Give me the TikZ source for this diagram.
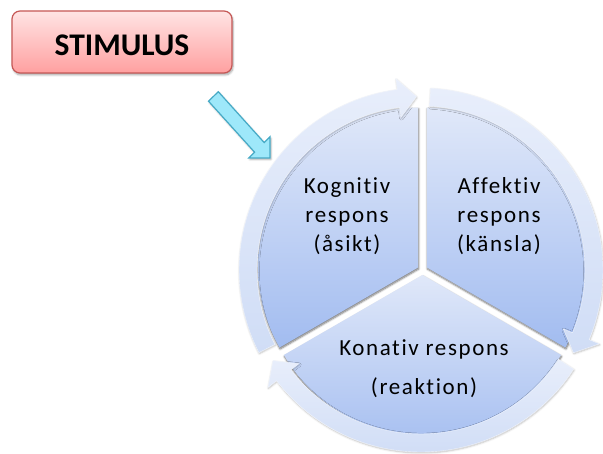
\documentclass[tikz,border=0pt]{standalone}
\usepackage{fontspec}
\setmainfont{Carlito}
\newfontfamily\bodyfont[LetterSpace=7,Ligatures=CommonOff]{Carlito}
\usetikzlibrary{shadows.blur}
\definecolor{ringA}{RGB}{232,238,251}
\definecolor{ringB}{RGB}{208,221,246}
\definecolor{pieA}{RGB}{224,232,249}
\definecolor{pieB}{RGB}{162,188,240}
\definecolor{stimA}{RGB}{255,228,228}
\definecolor{stimB}{RGB}{255,160,160}
\definecolor{stimLine}{RGB}{198,88,86}
\definecolor{arrFill}{RGB}{158,232,250}
\definecolor{arrLine}{RGB}{70,170,198}
\begin{document}
\begin{tikzpicture}[x=1pt,y=1pt,
  slice/.style={top color=pieA, bottom color=pieB, draw=none,
    blur shadow={shadow xshift=0.5pt, shadow yshift=-1.5pt, shadow blur steps=6, shadow opacity=55}},
  ringarrow/.style={top color=ringA, bottom color=ringB, draw=ringA!60!white, line width=0.4pt,
    blur shadow={shadow xshift=0.5pt, shadow yshift=-1pt, shadow blur steps=5, shadow opacity=25}},
  lbl/.style={font=\bodyfont\fontsize{23}{29}\selectfont, align=center, text=black, inner sep=0pt},
  stimbox/.style={rounded corners=8pt, top color=stimA, bottom color=stimB, draw=stimLine, line width=1.2pt,
    minimum width=220pt, minimum height=62pt, text height=27.8pt, text depth=0pt,
    font=\bfseries\fontsize{31.5}{36}\selectfont,
    blur shadow={shadow xshift=1pt, shadow yshift=-2pt, shadow blur steps=6, shadow opacity=35}},
  stimarrow/.style={fill=arrFill, draw=arrLine, line width=1.2pt, line join=miter,
    blur shadow={shadow xshift=1pt, shadow yshift=-1.5pt, shadow blur steps=5, shadow opacity=30}}
]
\useasboundingbox (0,0) rectangle (603,453);

% pie slices
\begin{scope}[shift={(422.5,183)}]
  \path[slice] (150:5) -- ++(90:160) arc[start angle=90, end angle=210, radius=160] -- cycle;
  \path[slice] (30:5) -- ++(-30:160) arc[start angle=-30, end angle=90, radius=160] -- cycle;
  \path[slice] (270:5) -- ++(210:160) arc[start angle=210, end angle=330, radius=160] -- cycle;
\end{scope}

% circular arrows
\begin{scope}[shift={(421,183)}]
  \foreach \s [evaluate=\s as \b using \s-109.5, evaluate=\s as \t using \s-115.5] in {207,87,-33} {
    \path[ringarrow] (\s:182) arc[start angle=\s, end angle=\b, radius=182]
      -- (\b:193) -- (\t:173.5) -- (\b:154) -- (\b:164)
      arc[start angle=\b, end angle=\s, radius=164] -- cycle;
  }
\end{scope}

% labels
\node[lbl] (kog) at (347,237) {Kognitiv\\respons\\(åsikt)};
\node[lbl] (aff) at (499,237) {Affektiv\\respons\\(känsla)};
\node[lbl, font=\bodyfont\fontsize{23}{39}\selectfont] (kon) at (424,84.5) {Konativ respons\\(reaktion)};

% stimulus
\node[stimbox] (stim) at (122,411) {STIMULUS};
\draw[stimarrow] (218.3,361.3) -- (264.2,310.4) -- (270,316.2) -- (270,295) -- (248.8,295)
  -- (254.6,300.8) -- (208.5,351.8) -- cycle;
\end{tikzpicture}
\end{document}
